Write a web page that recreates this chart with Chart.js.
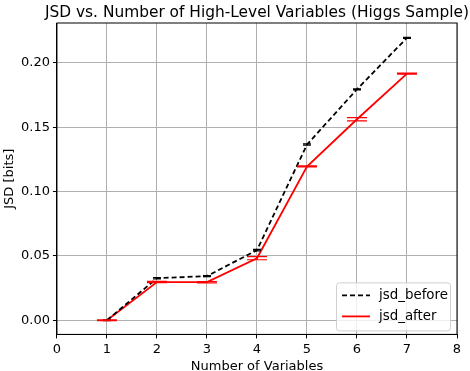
<!DOCTYPE html>
<html lang="en">
<head>
    <meta charset="UTF-8">
    <title>JSD vs. Number of High-Level Variables</title>
    <script src="https://cdn.jsdelivr.net/npm/chart.js"></script>
    <style>
        body { margin: 0; background: #fff; }
        #jsdChart { display: block; }
    </style>
</head>
<body>
<canvas id="jsdChart" width="470" height="371"></canvas>

<script>
    // data
    const numVars = [1, 2, 3, 4, 5, 6, 7];
    const jsdBefore = [0.0, 0.0327, 0.0343, 0.0545, 0.1365, 0.1795, 0.2195];
    const jsdAfter = [0.0, 0.0297, 0.0296, 0.0482, 0.1195, 0.1562, 0.1917];
    const errBefore = [0.0003, 0.0005, 0.0004, 0.0006, 0.0005, 0.0004, 0.0004];
    const errAfter = [0.0003, 0.0005, 0.0005, 0.0012, 0.0004, 0.0012, 0.0004];
    const xTicks = [0, 1, 2, 3, 4, 5, 6, 7, 8];
    const yTicks = [0, 0.05, 0.1, 0.15, 0.2];
    const titleText = 'JSD vs. Number of High-Level Variables (Higgs Sample)';

    const FONT = "'DejaVu Sans', sans-serif";

    // error bar caps, like matplotlib capsize
    const errorBars = {
        id: 'errorBars',
        afterDatasetsDraw(chart) {
            const ctx = chart.ctx;
            const xs = chart.scales.x, ys = chart.scales.y;
            chart.data.datasets.forEach(ds => {
                ctx.save();
                ctx.strokeStyle = ds.borderColor;
                ctx.lineWidth = 1.2;
                ds.errors.forEach((e, i) => {
                    const px = xs.getPixelForValue(ds.data[i].x);
                    const yHi = ys.getPixelForValue(ds.data[i].y + e);
                    const yLo = ys.getPixelForValue(ds.data[i].y - e);
                    const w = ds.capWidth / 2;
                    ctx.beginPath();
                    ctx.moveTo(px, yHi); ctx.lineTo(px, yLo);
                    ctx.moveTo(px - w, yHi); ctx.lineTo(px + w, yHi);
                    ctx.moveTo(px - w, yLo); ctx.lineTo(px + w, yLo);
                    ctx.stroke();
                });
                ctx.restore();
            });
        }
    };

    // legend box in lower right of the axes
    const innerLegend = {
        id: 'innerLegend',
        afterDraw(chart) {
            const ctx = chart.ctx;
            const a = chart.chartArea;
            const bw = 114, bh = 48;
            const bx = a.right - bw - 7, by = a.bottom - bh - 4;
            ctx.save();
            ctx.fillStyle = 'rgba(255,255,255,0.8)';
            ctx.strokeStyle = '#d0d0d0';
            ctx.lineWidth = 1;
            ctx.beginPath();
            ctx.roundRect(bx + 0.5, by + 0.5, bw, bh, 3);
            ctx.fill();
            ctx.stroke();
            ctx.font = '13.4px ' + FONT;
            ctx.textBaseline = 'middle';
            chart.data.datasets.forEach((ds, i) => {
                const ly = by + 13 + i * 21;
                ctx.strokeStyle = ds.borderColor;
                ctx.lineWidth = ds.borderWidth;
                ctx.setLineDash(ds.borderDash || []);
                ctx.beginPath();
                ctx.moveTo(bx + 6, ly);
                ctx.lineTo(bx + 34, ly);
                ctx.stroke();
                ctx.setLineDash([]);
                ctx.fillStyle = '#000';
                ctx.fillText(ds.label, bx + 43, ly);
            });
            ctx.restore();
        }
    };

    // black frame around the axes and title centred over them
    const frame = {
        id: 'frame',
        afterDraw(chart) {
            const ctx = chart.ctx, a = chart.chartArea;
            ctx.save();
            ctx.strokeStyle = '#000';
            ctx.lineWidth = 1;
            ctx.strokeRect(a.left, a.top, a.right - a.left, a.bottom - a.top);
            ctx.fillStyle = '#000';
            ctx.font = '15.4px ' + FONT;
            ctx.textAlign = 'center';
            ctx.textBaseline = 'alphabetic';
            ctx.fillText(titleText, (a.left + a.right) / 2, a.top - 6);
            ctx.restore();
        }
    };

    new Chart(document.getElementById('jsdChart').getContext('2d'), {
        type: 'line',
        data: {
            datasets: [{
                label: 'jsd_before',
                data: numVars.map((v, i) => ({x: v, y: jsdBefore[i]})),
                errors: errBefore,
                capWidth: 8,
                borderColor: '#000000',
                borderDash: [5, 3],
                borderWidth: 1.8,
                pointRadius: 0,
                tension: 0
            }, {
                label: 'jsd_after',
                data: numVars.map((v, i) => ({x: v, y: jsdAfter[i]})),
                errors: errAfter,
                capWidth: 20,
                borderColor: '#ff0000',
                borderWidth: 1.8,
                pointRadius: 0,
                tension: 0
            }]
        },
        options: {
            responsive: false,
            animation: false,
            layout: { padding: { left: 3, right: 13, top: 23, bottom: -2 } },
            plugins: {
                legend: { display: false },
                tooltip: { enabled: false },
                title: { display: false }
            },
            scales: {
                x: {
                    type: 'linear',
                    min: 0,
                    max: 8,
                    afterBuildTicks: axis => { axis.ticks = xTicks.map(v => ({value: v})); },
                    title: {
                        display: true,
                        text: 'Number of Variables',
                        color: '#000',
                        font: { family: FONT, size: 13, lineHeight: 1 },
                        padding: { top: 0, bottom: 0 }
                    },
                    ticks: { color: '#000', font: { family: FONT, size: 13 }, padding: 3 },
                    grid: { color: '#b0b0b0', tickLength: 4, tickColor: '#000' },
                    border: { color: '#000' }
                },
                y: {
                    min: -0.011,
                    max: 0.231,
                    afterBuildTicks: axis => { axis.ticks = yTicks.map(v => ({value: v})); },
                    title: {
                        display: true,
                        text: 'JSD [bits]',
                        color: '#000',
                        font: { family: FONT, size: 13, lineHeight: 1 },
                        padding: { top: 0, bottom: 2 }
                    },
                    ticks: {
                        color: '#000',
                        font: { family: FONT, size: 13 },
                        padding: 3,
                        callback: v => v.toFixed(2)
                    },
                    grid: { color: '#b0b0b0', tickLength: 4, tickColor: '#000' },
                    border: { color: '#000' }
                }
            }
        },
        plugins: [errorBars, innerLegend, frame]
    });
</script>
</body>
</html>
